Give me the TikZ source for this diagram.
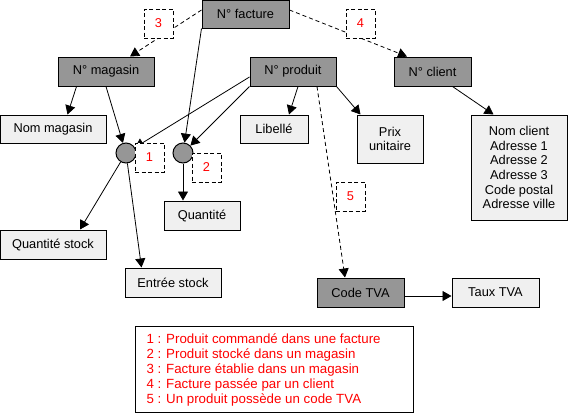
\documentclass[tikz,border=0pt]{standalone}
\usepackage{fontspec}
\setmainfont{Liberation Sans}
\usetikzlibrary{arrows.meta,calc}
\definecolor{dk}{RGB}{150,150,150}
\definecolor{lt}{RGB}{240,240,240}
\begin{document}
\begin{tikzpicture}[x=1pt,y=-1pt,
 every node/.style={font=\fontsize{12.8}{14.7}\selectfont, inner sep=0pt, line width=1pt},
 sz/.style 2 args={minimum width=#1pt, minimum height=#2pt},
 dbox/.style={draw, fill=dk},
 lbox/.style={draw, fill=lt},
 lab/.style={draw, dash pattern=on 4pt off 2.5pt, fill=white, text=red, minimum width=29pt, minimum height=29pt},
 arr/.style={-{Triangle[length=9pt,width=10pt]}, line width=0.8pt},
 darr/.style={arr, dash pattern=on 4pt off 3pt},
 circ/.style={circle, draw, fill=dk, minimum size=20pt}]
\useasboundingbox (0,0) rectangle (568,413);
% main boxes
\node[dbox, sz={87}{28}] (fac) at (245.5,14) {N° facture};
\node[dbox, sz={96}{29}] (mag) at (106,71.5) {N° magasin};
\node[dbox, sz={86}{29}] (prod) at (293,71.5) {N° produit};
\node[dbox, sz={77}{29}] (cli) at (432.5,71.5) {N° client};
\node[lbox, sz={106}{28}] (nomag) at (53,129) {Nom magasin};
\node[lbox, sz={68}{28}] (lib) at (274,129) {Libellé};
\node[lbox, sz={66}{48}, align=center] (prix) at (390,139) {Prix\\unitaire};
\node[lbox, sz={96}{105}, align=center] (nc) at (519,167.5) {Nom client\\Adresse 1\\Adresse 2\\Adresse 3\\Code postal\\Adresse ville};
\node[circ] (c1) at (126,153) {};
\node[circ] (c2) at (183,153) {};
\node[lbox, sz={76}{29}] (qt) at (202,215.5) {Quantité};
\node[lbox, sz={106}{29}] (qs) at (53,244.5) {Quantité stock};
\node[lbox, sz={96}{29}] (es) at (173,282.5) {Entrée stock};
\node[dbox, sz={87}{29}] (tva) at (360.5,292.5) {Code TVA};
\node[lbox, sz={87}{29}] (taux) at (495.5,292.5) {Taux TVA};
\node[draw, fill=white, sz={278}{86}] (leg) at (274,369) {};
\node[anchor=west, align=left, text=red, font=\fontsize{13.3}{15}\selectfont] (legtxt) at (146,369.5)
 {1 : Produit commandé dans une facture\\2 : Produit stocké dans un magasin\\3 : Facture établie dans un magasin\\4 : Facture passée par un client\\5 : Un produit possède un code TVA};
% dashed relations
\draw[darr] ([yshift=4pt]fac.west) -- ([xshift=24pt]mag.north);
\draw[darr] ([yshift=4pt]fac.east) -- ([xshift=-25.5pt]cli.north);
\draw[darr] ([xshift=24pt]prod.south) -- ([xshift=-15.5pt]tva.north);
% solid arrows
\draw[arr] ([xshift=19pt]mag.south west) -- ([xshift=68pt]nomag.north west);
\draw[arr] (mag.south) -- (c1);
\draw[arr] ([yshift=-5.5pt]prod.west) -- (c1);
\draw[arr] (prod.south west) -- (c2);
\draw[arr] (fac.south west) -- (c2);
\draw[arr] (c1) -- ([xshift=27pt]qs.north);
\draw[arr] (c1) -- ([xshift=17pt]es.north west);
\draw[arr] (c2) -- (c2 |- qt.north);
\draw[arr] ([xshift=5pt]prod.south) -- ([xshift=15pt]lib.north);
\draw[arr] (prod.south east) -- ([xshift=4pt]prix.north west);
\draw[arr] ([xshift=59pt]cli.south west) -- ([xshift=23pt]nc.north west);
\draw[arr] ([yshift=-3.5pt]tva.east) -- ([yshift=-3.5pt]taux.west);
% relation labels
\node[lab] (l3) at (158.5,23.5) {3};
\node[lab] (l4) at (360.5,23.5) {4};
\node[lab] (l1) at (149.5,157.5) {1};
\node[lab] (l2) at (206.5,167.5) {2};
\node[lab] (l5) at (350.5,196.5) {5};
\end{tikzpicture}
\end{document}
